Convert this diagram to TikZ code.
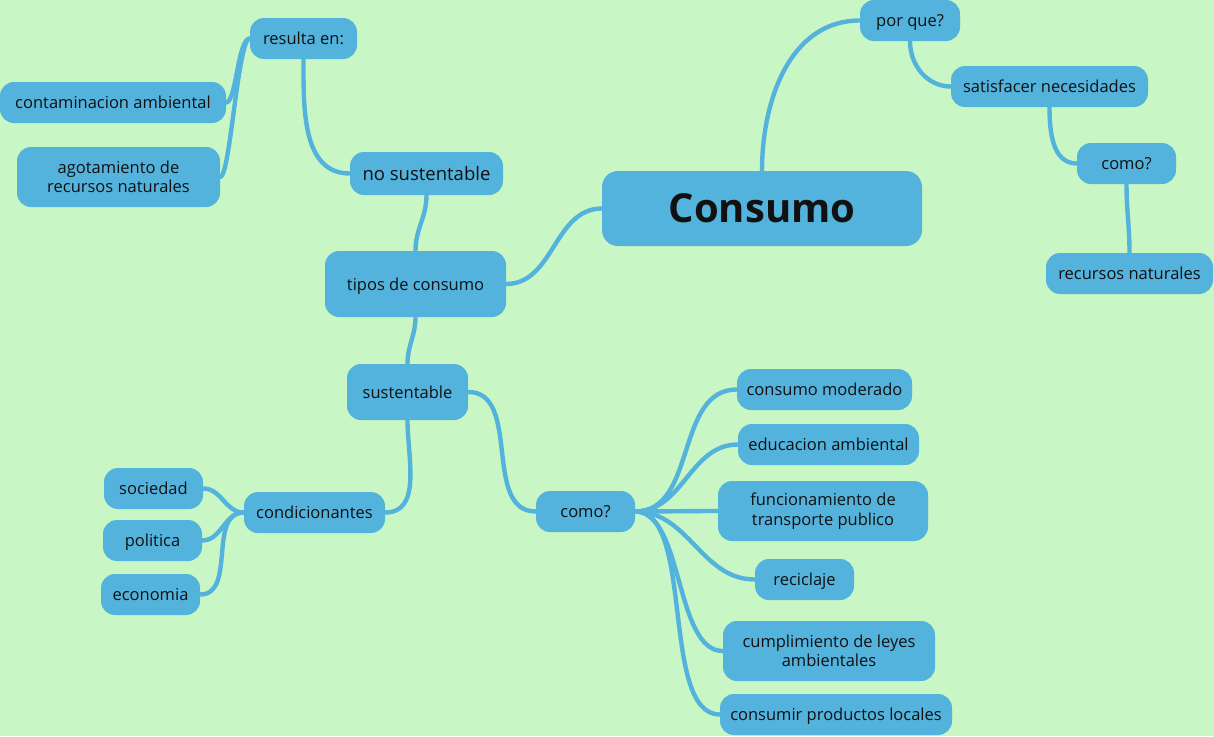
\documentclass[tikz,border=0pt]{standalone}
\usepackage{fontspec}
\setmainfont{Open Sans}
\definecolor{bg}{RGB}{200,246,196}
\definecolor{boxc}{RGB}{84,179,220}
\definecolor{txt}{RGB}{17,17,17}
\pgfdeclarelayer{back}
\pgfdeclarelayer{lines}
\pgfsetlayers{back,lines,main}
\begin{document}
\begin{tikzpicture}[x=1pt,y=-1pt,
  nd/.style={fill=boxc, rounded corners=14pt, text=txt, font=\fontsize{16.5}{19.5}\selectfont, align=center, inner sep=0pt},
  one/.style={nd, text depth=0pt},
  ln/.style={draw=boxc, line width=4.4pt, line cap=round}]
\begin{pgfonlayer}{back}
\fill[bg] (0,0) rectangle (1214,736);
\end{pgfonlayer}
\useasboundingbox (0,0) rectangle (1214,736);

\node[nd, minimum width=320pt, minimum height=75pt, rounded corners=16pt, font=\fontsize{40}{46}\selectfont\bfseries] (consumo) at (762,208.5) {Consumo};
\node[one, minimum width=100pt, minimum height=41pt] (porque) at (910,20.5) {por que?};
\node[one, minimum width=197pt, minimum height=41pt] (satisf) at (1049.5,86.5) {satisfacer necesidades};
\node[one, minimum width=99pt, minimum height=41pt] (comoA) at (1126.5,163.5) {como?};
\node[one, minimum width=167pt, minimum height=41pt] (recnat) at (1129.5,273.5) {recursos naturales};
\node[one, minimum width=181pt, minimum height=66pt] (tipos) at (415.5,284) {tipos de consumo};
\node[one, minimum width=153pt, minimum height=43pt, font=\fontsize{18.5}{22}\selectfont] (nosust) at (426.5,173.5) {no sustentable};
\node[one, minimum width=107pt, minimum height=41pt] (resulta) at (303.5,38.5) {resulta en:};
\node[one, minimum width=226pt, minimum height=41pt] (contam) at (113,102.5) {contaminacion ambiental};
\node[nd, minimum width=203pt, minimum height=60pt] (agot) at (118.5,177) {agotamiento de\\recursos naturales};
\node[one, minimum width=121pt, minimum height=56pt] (sust) at (407.5,392) {sustentable};
\node[one, minimum width=141pt, minimum height=41pt] (cond) at (314.5,512.5) {condicionantes};
\node[one, minimum width=99pt, minimum height=41pt] (soc) at (153.5,488.5) {sociedad};
\node[one, minimum width=99pt, minimum height=41pt] (pol) at (152.5,540.5) {politica};
\node[one, minimum width=99pt, minimum height=41pt] (eco) at (150.5,594.5) {economia};
\node[one, minimum width=99pt, minimum height=41pt] (comoB) at (585.5,511.5) {como?};
\node[one, minimum width=175pt, minimum height=41pt] (cmod) at (824.5,389.5) {consumo moderado};
\node[one, minimum width=181pt, minimum height=41pt] (educ) at (828.5,444.5) {educacion ambiental};
\node[nd, minimum width=210pt, minimum height=60pt] (func) at (823,511) {funcionamiento de\\transporte publico};
\node[one, minimum width=99pt, minimum height=41pt] (recic) at (804.5,579.5) {reciclaje};
\node[nd, minimum width=212pt, minimum height=60pt] (cumpl) at (829,651) {cumplimiento de leyes\\ambientales};
\node[one, minimum width=232pt, minimum height=41pt] (consloc) at (836,714.5) {consumir productos locales};

\begin{pgfonlayer}{lines}
\draw[ln] (consumo.north) to[out=90,in=180] (porque.west);
\draw[ln] (consumo.west) to[out=180,in=0] (tipos.east);
\draw[ln] (porque.south) to[out=-90,in=180] (satisf.west);
\draw[ln] (satisf.south) to[out=-90,in=180] (comoA.west);
\draw[ln] (comoA.south) to[out=-90,in=90] (recnat.north);
\draw[ln] (tipos.north) to[out=90,in=-90] (nosust.south);
\draw[ln] (tipos.south) to[out=-90,in=90] (sust.north);
\draw[ln] (nosust.west) to[out=180,in=-90] (resulta.south);
\draw[ln] (resulta.west) .. controls +(-12,0) and +(10,0) .. (contam.east);
\draw[ln] (resulta.west) .. controls +(-12,0) and +(10,0) .. (agot.east);
\draw[ln] (sust.south) to[out=-90,in=0] (cond.east);
\draw[ln] (sust.east) to[out=0,in=180] (comoB.west);
\draw[ln] (cond.west) to[out=180,in=0] (soc.east);
\draw[ln] (cond.west) to[out=180,in=0] (pol.east);
\draw[ln] (cond.west) to[out=180,in=0] (eco.east);
\foreach \c in {cmod,educ,func,recic}
  \draw[ln] (comoB.east) to[out=0,in=180] (\c.west);
\draw[ln] (comoB.east) to[out=0,in=180,looseness=0.75] (cumpl.west);
\draw[ln] (comoB.east) to[out=0,in=180,looseness=0.7] (consloc.west);
\end{pgfonlayer}
\end{tikzpicture}
\end{document}
